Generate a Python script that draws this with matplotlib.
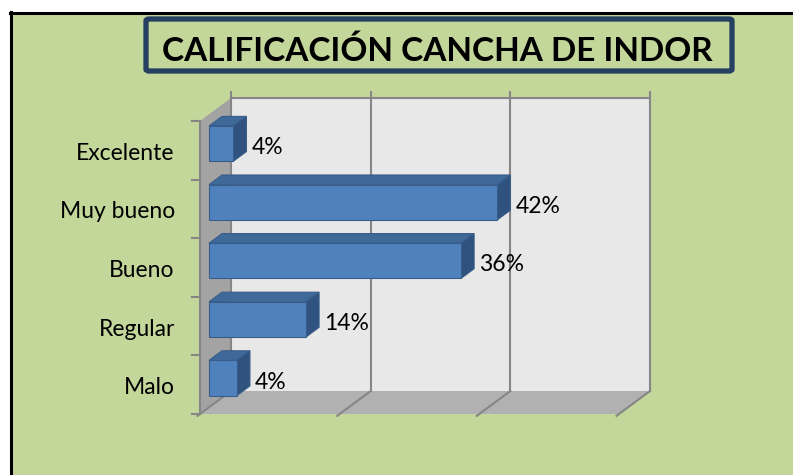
import matplotlib.pyplot as plt
from matplotlib.patches import Polygon, Rectangle, FancyBboxPatch

# Datos
categorias = ["Malo", "Regular", "Bueno ", "Muy bueno", "Excelente"]
porcentajes = [0.04, 0.139, 0.361, 0.413, 0.035]
etiquetas = ["4%", "14%", "36%", "42%", "4%"]
ticks_x = [0.0, 0.2, 0.4, 0.6]
titulo = "CALIFICACIÓN CANCHA DE INDOR"

W, H = 793, 475
verde = "#C4D79B"
fuente = "Lato"

fig = plt.figure(figsize=(W / 100, H / 100), dpi=100)
fig.patch.set_facecolor("white")

# fondo verde con borde negro (izquierda y arriba)
fig.patches.append(Rectangle((10 / W, 0), 1, (H - 12) / H, transform=fig.transFigure,
                             facecolor=verde, edgecolor="none", zorder=-10))
fig.add_artist(plt.Line2D([10.5 / W, 10.5 / W], [0, (H - 12) / H], color="black", lw=2.2, zorder=-5))
fig.add_artist(plt.Line2D([10 / W, 1], [(H - 12.5) / H, (H - 12.5) / H], color="black", lw=2.2, zorder=-5))

# plano frontal del grafico
x0, y0, ancho, alto = 200, 121, 419, 293
ax = fig.add_axes([x0 / W, (H - y0 - alto) / H, ancho / W, alto / H])
ax.set_xlim(0, 0.6)
ax.set_ylim(-0.5, len(categorias) - 0.5)
ax.axis("off")

# desplazamiento oblicuo por unidad de profundidad
DX = 31 / ancho * 0.6
DY = 23 / alto * len(categorias)


def p3(x, y, z):
    return (x + z * DX, y + z * DY)


def cara(puntos, color, borde="none", lw=0, z=1):
    ax.add_patch(Polygon([p3(*p) for p in puntos], closed=True, facecolor=color,
                         edgecolor=borde, lw=lw, clip_on=False, zorder=z, joinstyle="miter"))


ymin, ymax = -0.5, len(categorias) - 0.5
xmax = ticks_x[-1]
gris = "#868686"

# paredes
cara([(0, ymin, 1), (xmax, ymin, 1), (xmax, ymax, 1), (0, ymax, 1)], "#E8E8E8")
cara([(0, ymin, 0), (0, ymin, 1), (0, ymax, 1), (0, ymax, 0)], "#A3A3A3")
cara([(0, ymin, 0), (xmax, ymin, 0), (xmax, ymin, 1), (0, ymin, 1)], "#B1B1B1")

# lineas de division
for t in ticks_x:
    xs, ys = zip(p3(t, ymin, 1), p3(t, ymax + 0.1, 1))
    ax.plot(xs, ys, color=gris, lw=1.5, clip_on=False, zorder=2)
    xs, ys = zip(p3(t, ymin, 1), p3(t, ymin, -0.08))
    ax.plot(xs, ys, color=gris, lw=1.5, clip_on=False, zorder=2)
xs, ys = zip(p3(0, ymax, 1), p3(xmax, ymax, 1))
ax.plot(xs, ys, color=gris, lw=1.5, clip_on=False, zorder=2)

# eje vertical y marcas
ax.plot([0, 0], [ymin, ymax], color=gris, lw=1.5, clip_on=False, zorder=2)
for i in range(len(categorias) + 1):
    ax.plot([-0.011, 0], [ymin + i, ymin + i], color=gris, lw=1.5, clip_on=False, zorder=2)

# barras 3D
z1, z2, h = 0.29, 0.71, 0.3
for i, (v, etq) in enumerate(zip(porcentajes, etiquetas)):
    borde = "#385D8A"
    cara([(0, i + h, z1), (v, i + h, z1), (v, i + h, z2), (0, i + h, z2)], "#3E6999", borde, 0.8, 3)
    cara([(v, i - h, z1), (v, i - h, z2), (v, i + h, z2), (v, i + h, z1)], "#30527F", borde, 0.8, 3)
    cara([(0, i - h, z1), (v, i - h, z1), (v, i + h, z1), (0, i + h, z1)], "#4F81BD", borde, 0.8, 4)
    tx, _ = p3(v, i, z2)
    _, ty = p3(v, i, z1)
    ax.text(tx + 0.007, ty - 0.07, etq, ha="left", va="center", fontsize=16.5,
            family=fuente, color="black", zorder=5)

# etiquetas de categorias
for i, c in enumerate(categorias):
    ax.text(-0.036, i - 0.05, c.strip(), ha="right", va="center", fontsize=16.5,
            family=fuente, color="black")

# titulo con recuadro
fig.patches.append(FancyBboxPatch((146 / W, (H - 71) / H), 586 / W, 52 / H,
                                  boxstyle="round,pad=0,rounding_size=0.004",
                                  transform=fig.transFigure, facecolor="none",
                                  edgecolor="#254061", lw=3.8, zorder=5))
fig.text(437 / W, (H - 51) / H, titulo, ha="center", va="center", fontsize=24,
         fontweight="bold", family=fuente, color="black")

fig.savefig("out.png", dpi=100, facecolor=fig.get_facecolor())
